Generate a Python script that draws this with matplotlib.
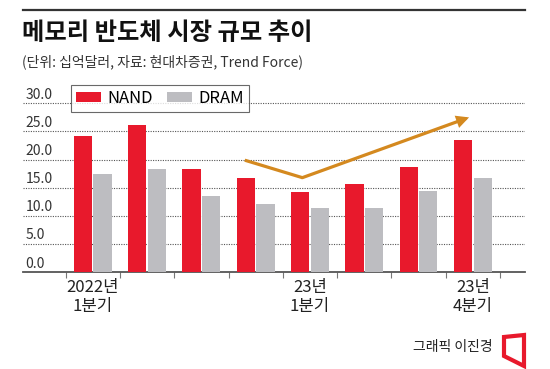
import matplotlib
matplotlib.use("Agg")
import matplotlib.pyplot as plt
from matplotlib.patches import Polygon
from matplotlib.lines import Line2D

plt.rcParams['font.family'] = ['Noto Sans CJK KR', 'DejaVu Sans']

# ---- data ----
quarters = ["2022년\n1분기", "", "", "", "23년\n1분기", "", "", "23년\n4분기"]
nand = [24.2, 26.2, 18.3, 16.8, 14.3, 15.7, 18.7, 23.4]
dram = [17.5, 18.3, 13.6, 12.1, 11.4, 11.4, 14.4, 16.8]
yticks = [0.0, 5.0, 10.0, 15.0, 20.0, 25.0, 30.0]
series_names = ["NAND", "DRAM"]

title = "메모리 반도체 시장 규모 추이"
subtitle = "(단위: 십억달러, 자료: 현대차증권, Trend Force)"
credit = "그래픽 이진경"

# trend arrow (annotation, in data units)
trend_x = [2.80, 3.86, 6.93]
trend_y = [19.9, 16.8, 27.5]

RED = "#e8192c"
GRAY = "#bdbdc1"
ORANGE = "#d4891f"

W, H = 550, 369
fig = plt.figure(figsize=(W / 100, H / 100), dpi=100)
fig.patch.set_facecolor("white")

def fx(px):
    return px / W

def fy(py):
    return 1 - py / H

# top rule
fig.add_artist(Line2D([fx(23), fx(525)], [fy(10), fy(10)], color="#333333", lw=1.6))
fig.text(fx(22), fy(21), title, fontsize=17.5, fontweight="black", color="#111111", va="top", ha="left")
fig.text(fx(22), fy(54), subtitle, fontsize=10, color="#333333", va="top", ha="left")

ax_left, ax_right = 22.7, 525
zero_px = 272.3
ppu = (272.3 - 103.3) / 30
ymax = 31
ax = fig.add_axes([fx(ax_left), fy(zero_px), (ax_right - ax_left) / W, ymax * ppu / H])

x = list(range(len(nand)))
bw = 0.335
off = 0.18
ax.bar([i - off for i in x], nand, width=bw, color=RED, zorder=3, label=series_names[0])
ax.bar([i + off for i in x], dram, width=bw, color=GRAY, zorder=3, label=series_names[1])

ax.set_xlim(-1.29, 7.96)
ax.set_ylim(0, ymax)

for s in ["top", "right", "left"]:
    ax.spines[s].set_visible(False)
ax.spines["bottom"].set_color("#555555")
ax.spines["bottom"].set_linewidth(1.3)

# grid lines
for v in yticks[1:]:
    ax.axhline(v, color="#555555", lw=0.8, ls=(0, (1, 1.2)), zorder=1)
ax.set_yticks([])
for v in yticks:
    ax.text(0.006, v + 0.3, f"{v:.1f}", transform=ax.get_yaxis_transform(),
            fontsize=10, color="#333333", ha="left", va="bottom", zorder=2)

# x ticks
ax.set_xticks([i for i, q in enumerate(quarters) if q])
ax.set_xticklabels([q for q in quarters if q], fontsize=12, color="#222222", linespacing=1.15)
ax.set_xticks([i - 0.5 for i in range(len(nand) + 1)], minor=True)
ax.tick_params(axis="x", which="major", length=0, pad=5)
ax.tick_params(axis="x", which="minor", length=4, color="#777777", width=0.8, direction="out")

# trend arrow
ax.plot(trend_x[:2], trend_y[:2], color=ORANGE, lw=2.3, solid_capstyle="butt", zorder=4)
ax.annotate("", xy=(trend_x[2], trend_y[2]), xytext=(trend_x[1], trend_y[1]),
            arrowprops=dict(arrowstyle="-|>", color=ORANGE, lw=2.3, mutation_scale=14,
                            shrinkA=0, shrinkB=0, joinstyle="miter"), zorder=4)

# legend
leg = ax.legend(loc="upper left", bbox_to_anchor=(fx(71), fy(85)), bbox_transform=fig.transFigure,
                ncol=2, frameon=True, fancybox=False, fontsize=12, handlelength=1.5,
                handleheight=0.6, handletextpad=0.4, columnspacing=0.8, borderpad=0.3,
                borderaxespad=0)
leg.get_frame().set_edgecolor("#444444")
leg.get_frame().set_linewidth(0.8)
leg.set_zorder(5)

# credit
fig.text(fx(493), fy(347.5), credit, fontsize=10, color="#222222", ha="right", va="center")
logo = Polygon([(fx(504), fy(337)), (fx(524), fy(335)), (fx(524), fy(366)), (fx(504), fy(356))],
               closed=True, fill=False, edgecolor=RED, lw=3, joinstyle="miter",
               transform=fig.transFigure)
fig.add_artist(logo)

fig.savefig("out.png", dpi=100, facecolor="white")
